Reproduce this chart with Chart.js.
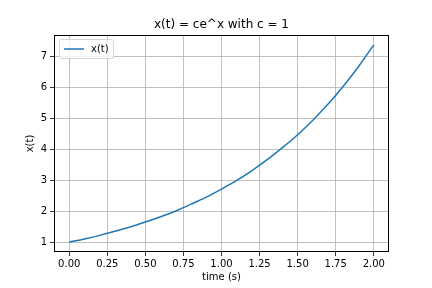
<!DOCTYPE html>
<html><head><meta charset="utf-8">
<script src="https://cdn.jsdelivr.net/npm/chart.js@4/dist/chart.umd.min.js"></script>
<style>html,body{margin:0;padding:0;background:#fff}#wrap{width:432px;height:288px}</style>
</head><body><div id="wrap"><canvas id="c" width="432" height="288"></canvas></div>
<script>
const times = [0.0,0.1,0.2,0.3,0.4,0.5,0.6,0.7,0.8,0.9,1.0,1.1,1.2,1.3,1.4,1.5,1.6,1.7,1.8,1.9,2.0];
const xValues = [1.00,1.105,1.22,1.35,1.49,1.65,1.82,2.01,2.23,2.46,2.72,3.00,3.32,3.67,4.06,4.48,4.95,5.47,6.05,6.69,7.39];
const xTicks = [0.00,0.25,0.50,0.75,1.00,1.25,1.50,1.75,2.00];
const yTicks = [1,2,3,4,5,6,7];
const titleText = "x(t) = ce^x with c = 1";
const seriesLabel = "x(t)";
const xLabel = "time (s)";
const yLabel = "x(t)";

const FONT = "'DejaVu Sans', sans-serif";
const extras = {
  id:'extras',
  afterDraw(chart){
    const ctx = chart.ctx, a = chart.chartArea;
    ctx.save();
    ctx.strokeStyle = '#000'; ctx.lineWidth = 1;
    ctx.strokeRect(Math.round(a.left)+0.5, Math.round(a.top)+0.5, Math.round(a.right-a.left)-1, Math.round(a.bottom-a.top)-1);
    ctx.fillStyle = '#000';
    ctx.font = "12px " + FONT;
    ctx.textAlign = 'center'; ctx.textBaseline = 'alphabetic';
    ctx.fillText(titleText, (a.left+a.right)/2, 28);
    // legend
    const lx = a.left+5, ly = a.top+4, lw = 54, lh = 19;
    ctx.fillStyle = 'rgba(255,255,255,0.8)';
    ctx.strokeStyle = 'rgba(204,204,204,0.8)';
    ctx.beginPath();
    if (ctx.roundRect) ctx.roundRect(lx+0.5, ly+0.5, lw, lh, 2); else ctx.rect(lx+0.5, ly+0.5, lw, lh);
    ctx.fill(); ctx.stroke();
    ctx.strokeStyle = '#1f77b4'; ctx.lineWidth = 1.5;
    ctx.beginPath(); ctx.moveTo(lx+5, ly+10); ctx.lineTo(lx+25, ly+10); ctx.stroke();
    ctx.fillStyle = '#000'; ctx.font = "10px " + FONT;
    ctx.textAlign = 'left'; ctx.textBaseline = 'middle';
    ctx.fillText(seriesLabel, lx+32, ly+10);
    ctx.restore();
  }
};

new Chart(document.getElementById('c'), {
  type: 'line',
  data: { datasets: [{ label: seriesLabel, data: times.map((t,i)=>({x:t,y:xValues[i]})),
    borderColor:'#1f77b4', borderWidth:1.5, pointRadius:0, fill:false, tension:0.4, cubicInterpolationMode:'monotone' }] },
  options: {
    responsive:false, animation:false, devicePixelRatio:1,
    layout:{ padding:{ top:35, right:43, left:24, bottom:5 } },
    plugins:{ legend:{display:false}, title:{display:false}, tooltip:{enabled:false} },
    scales:{
      x:{ type:'linear', min:-0.1, max:2.1,
        afterBuildTicks(s){ s.ticks = xTicks.map(v=>({value:v})); },
        afterFit(s){ s.height = 31; },
        ticks:{ color:'#000', font:{family:FONT,size:10}, padding:2, maxRotation:0, autoSkip:false,
          callback:(v)=>Number(v).toFixed(2) },
        grid:{ color:'#b0b0b0', lineWidth:0.8, tickLength:4, tickColor:'#000', drawTicks:true },
        border:{ display:false },
        title:{ display:true, text:xLabel, color:'#000', font:{family:FONT,size:10}, padding:{top:3,bottom:0} }
      },
      y:{ type:'linear', min:0.681, max:7.708,
        afterBuildTicks(s){ s.ticks = yTicks.map(v=>({value:v})); },
        afterFit(s){ s.width = 30; },
        ticks:{ color:'#000', font:{family:FONT,size:10}, padding:3, autoSkip:false,
          callback:(v)=>String(v) },
        grid:{ color:'#b0b0b0', lineWidth:0.8, tickLength:4, tickColor:'#000', drawTicks:true },
        border:{ display:false },
        title:{ display:true, text:yLabel, color:'#000', font:{family:FONT,size:10}, padding:{top:0,bottom:0} }
      }
    }
  },
  plugins:[extras]
});
</script></body></html>
